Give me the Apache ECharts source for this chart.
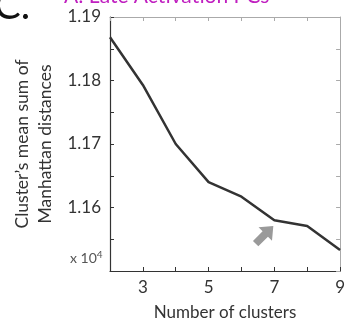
<!DOCTYPE html>
<html><head><meta charset="utf-8">
<script src="https://cdn.jsdelivr.net/npm/echarts@6/dist/echarts.min.js"></script>
<style>html,body{margin:0;padding:0;background:#fff}#c{width:348px;height:327px}</style>
</head><body><div id="c"></div>
<script>
var clusters = [2, 3, 4, 5, 6, 7, 8, 9];
var meanSum = [11868, 11793, 11700, 11640, 11617, 11580, 11571, 11533];
var xTickLabels = [3, 5, 7, 9];
var yTickLabels = [11600, 11700, 11800, 11900];
var arrowAt = [6.7, 11557];

var FONT = 'Lato';
var chart = echarts.init(document.getElementById('c'));
chart.setOption({
  animation: false,
  grid: {left: 110, top: 17, right: 6, bottom: 56},
  xAxis: [{
    type: 'value', min: 2, max: 9, interval: 1,
    axisLine: {lineStyle: {color: '#333', width: 1.2}},
    axisTick: {inside: true, length: 4, lineStyle: {color: '#333'}},
    splitLine: {show: false},
    axisLabel: {color: '#333', fontFamily: FONT, fontSize: 17, margin: 8,
      formatter: function (v) { return xTickLabels.indexOf(v) >= 0 ? String(v) : ''; }},
    name: 'Number of clusters', nameLocation: 'middle', nameGap: 33,
    nameTextStyle: {color: '#333', fontFamily: FONT, fontSize: 17}
  }, {
    type: 'value', min: 2, max: 9, interval: 1, position: 'top',
    axisLine: {show: true, lineStyle: {color: '#aaa'}},
    axisTick: {inside: true, length: 4, lineStyle: {color: '#aaa'}},
    axisLabel: {show: false}, splitLine: {show: false}
  }],
  yAxis: [{
    type: 'value', min: 11500, max: 11900, interval: 50,
    axisLine: {show: true, lineStyle: {color: '#333', width: 1.2}},
    axisTick: {show: true, inside: true, length: 4, lineStyle: {color: '#333'}},
    splitLine: {show: false},
    axisLabel: {color: '#333', fontFamily: FONT, fontSize: 17, margin: 9,
      formatter: function (v) { return yTickLabels.indexOf(v) >= 0 ? (v / 10000).toFixed(2) : ''; }},
    name: 'Cluster\u2019s mean sum of\nManhattan distances', nameLocation: 'middle', nameGap: 50,
    nameTextStyle: {color: '#333', fontFamily: FONT, fontSize: 17.5, lineHeight: 23}
  }, {
    type: 'value', min: 11500, max: 11900, interval: 50, position: 'right',
    axisLine: {show: true, lineStyle: {color: '#aaa'}},
    axisTick: {show: true, inside: true, length: 4, lineStyle: {color: '#aaa'}},
    axisLabel: {show: false}, splitLine: {show: false}
  }],
  series: [{
    type: 'line', xAxisIndex: 0, yAxisIndex: 0,
    data: clusters.map(function (c, i) { return [c, meanSum[i]]; }),
    showSymbol: false, symbol: 'none',
    lineStyle: {color: '#333', width: 2.5},
    markPoint: {
      silent: true,
      data: [{coord: arrowAt}],
      symbol: 'path://M5,0 L10,5 L7,5 L7,11 L3,11 L3,5 L0,5 Z',
      symbolSize: [19, 25], symbolRotate: -45,
      itemStyle: {color: '#9a9a9a'}, label: {show: false}
    }
  }],
  graphic: [
    {type: 'text', left: 70, top: 250,
      style: {text: 'x 10{s|4}', fill: '#555', font: '14px ' + FONT,
        rich: {s: {fontSize: 10, verticalAlign: 'top', padding: [0, 0, 6, 0], fill: '#555', fontFamily: FONT}}}},
    {type: 'text', left: 64, top: -14,
      style: {text: 'A: Late Activation PCs', fill: '#c020c0', font: '21px ' + FONT}},
    {type: 'text', left: -6, top: -14,
      style: {text: 'C.', fill: '#111', font: '40px ' + FONT}}
  ]
});
</script></body></html>
